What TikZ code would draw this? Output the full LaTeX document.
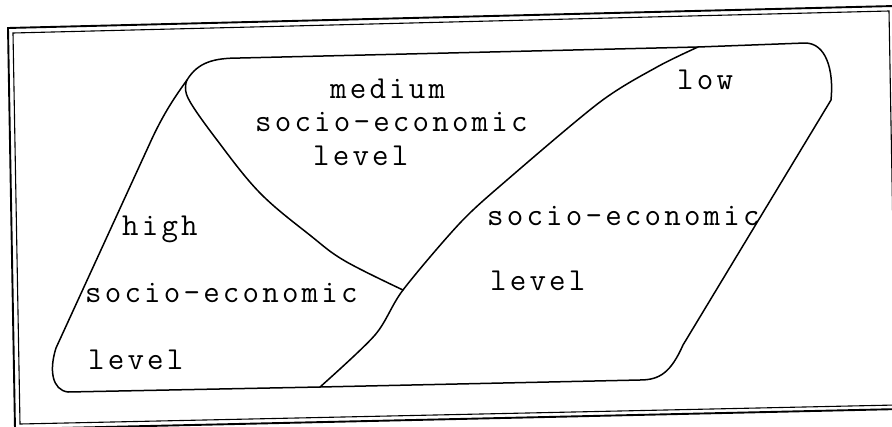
\documentclass[tikz,border=0pt]{standalone}
\usepackage{fontspec}
\newfontfamily\lbltt{Latin Modern Mono}[LetterSpace=10]
\begin{document}
\begin{tikzpicture}[x=1pt,y=-1pt,
  shapeline/.style={line width=1.5pt,line join=round,line cap=round},
  frameout/.style={line width=1.9pt},
  framein/.style={line width=1.1pt},
  lbl/.style={anchor=base west,inner sep=0pt,font=\lbltt\fontsize{32}{32}\selectfont}]
\useasboundingbox (0,0) rectangle (892,426);
\clip (0,0) rectangle (892,426);
% frame (slightly rotated, double line)
\draw[frameout] (8,28) -- (894,6) -- (901,409) -- (15,429) -- cycle;
\draw[framein] (13,33) -- (889,11) -- (896,405) -- (20,424) -- cycle;
% junctions
\coordinate (jtl) at (187,80);
\coordinate (jtop) at (698,47);
\coordinate (jmid) at (403,290);
\coordinate (jbot) at (320,387);
% outer shape
\draw[shapeline] (jtl) .. controls (198,62) and (214,58) .. (240,58)
  -- (jtop) -- (805,43) .. controls (826,43) and (834,70) .. (831,100)
  -- (683,345) .. controls (671,372) and (660,380) .. (640,380)
  -- (jbot) -- (68,392) .. controls (52,390) and (49,370) .. (56,348)
  -- (150,143) .. controls (164,112) and (177,94) .. (jtl);
% medium divider
\draw[shapeline] plot[smooth,tension=0.6] coordinates {(187,80) (188,98) (217,140) (260,193) (311,236) (345,261) (403,290)};
% low divider
\draw[shapeline] plot[smooth,tension=0.5] coordinates {(698,47) (657,67) (600,102) (507,180) (460,223) (403,290) (375,335) (320,387)};
% labels
\node[lbl] (m1) at (330,98) {medium};
\node[lbl] (m2) at (255,131) {socio-economic};
\node[lbl] (m3) at (313,165) {level};
\node[lbl] (l1) at (677,89) {low};
\node[lbl] (l2) at (487,225) {socio-economic};
\node[lbl] (l3) at (490,290) {level};
\node[lbl] (h1) at (122,235) {high};
\node[lbl] (h2) at (85,302) {socio-economic};
\node[lbl] (h3) at (88,369) {level};
\end{tikzpicture}
\end{document}
